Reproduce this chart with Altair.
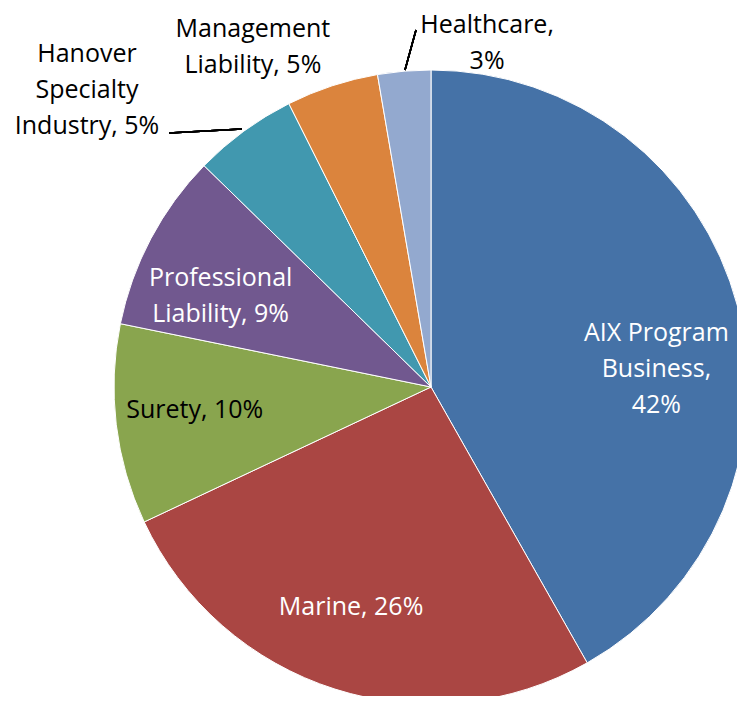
import altair as alt
import pandas as pd

categories = ["AIX Program Business", "Marine", "Surety", "Professional Liability",
              "Hanover Specialty Industry", "Management Liability", "Healthcare"]
values = [41.8, 26.2, 10.2, 9.1, 5.3, 4.7, 2.7]
labels = ["AIX Program\nBusiness,\n42%", "Marine, 26%", "Surety, 10%",
          "Professional\nLiability, 9%", "Hanover\nSpecialty\nIndustry, 5%",
          "Management\nLiability, 5%", "Healthcare,\n3%"]
colors = ["#4572A7", "#AA4643", "#89A54E", "#71588F", "#4198AF", "#DB843D", "#93A9CF"]

df = pd.DataFrame({"category": categories, "value": values, "label": labels,
                   "idx": list(range(len(categories)))})
total = sum(values)

FONT = "Open Sans"
R = 317

theta_scale = alt.Scale(domain=[0, total])

pie = alt.Chart(df).mark_arc(radius=R, stroke="white", strokeWidth=1).encode(
    theta=alt.Theta("value:Q", stack=True, scale=theta_scale),
    color=alt.Color("category:N", scale=alt.Scale(domain=categories, range=colors), legend=None),
    order=alt.Order("idx:Q"),
)

base_text = alt.Chart(df).transform_window(
    cum="sum(value)", sort=[alt.SortField("idx")], frame=[None, 0]
).transform_calculate(mid="datum.cum - datum.value / 2")

# per-label placement style: radius, dx, dy, colour
label_style = {
    "AIX Program Business": (230, 3, 5, "white"),
    "Marine": (234, -9, -3, "white"),
    "Surety": (237, -1, -5, "black"),
    "Professional Liability": (229, -8, -2, "white"),
    "Hanover Specialty Industry": (454, -76, 33, "black"),
    "Management Liability": (385, -58, 8, "black"),
    "Healthcare": (353, 86, -10, "black"),
}

layers = [pie]
for cat in categories:
    r, dx, dy, col = label_style[cat]
    layers.append(
        base_text.transform_filter(alt.datum.category == cat).mark_text(
            radius=r, dx=dx, dy=dy, color=col, font=FONT, fontSize=25,
            lineBreak="\n", lineHeight=36, align="center", baseline="middle"
        ).encode(
            theta=alt.Theta("mid:Q", stack=False, scale=theta_scale),
            text="label:N",
        )
    )

# leader lines (view coordinates)
leader1 = alt.Chart(df).mark_rule(color="black", strokeWidth=1.5).encode(
    x=alt.value(44), y=alt.value(55), x2=alt.value(117), y2=alt.value(51))
leader2 = alt.Chart(df).mark_rule(color="black", strokeWidth=1.5).encode(
    x=alt.value(291), y=alt.value(-48), x2=alt.value(280), y2=alt.value(-8))
layers += [leader1, leader2]

chart = alt.layer(*layers).properties(
    width=612, height=618,
    padding={"left": 117, "top": 70, "right": 0, "bottom": 0},
    autosize=alt.AutoSizeParams(type="none"),
).configure_view(stroke=None)

chart.save("out.html", embed_options={"renderer": "svg", "actions": False})
